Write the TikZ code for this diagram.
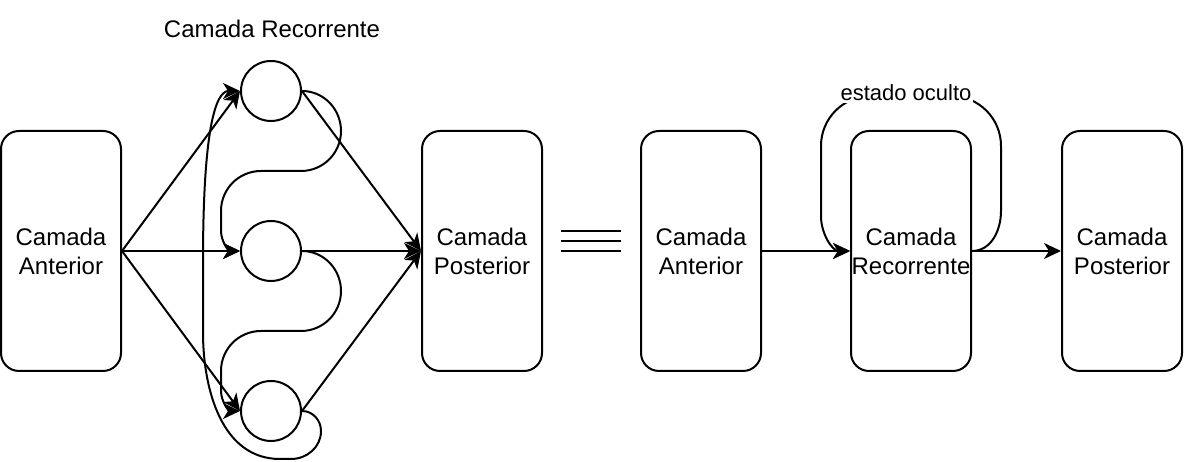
\documentclass[tikz,border=0pt]{standalone}
\usepackage{fontspec}
\setmainfont{Liberation Sans}
\usetikzlibrary{arrows.meta}
\begin{document}
\begin{tikzpicture}[x=1pt,y=1pt,
  line width=2pt,
  box/.style={draw, rounded corners=18pt, minimum width=120pt, minimum height=240pt,
    inner sep=0pt, align=center, font=\fontsize{24}{29}\selectfont},
  neuron/.style={draw, circle, minimum size=60pt, inner sep=0pt},
  arr/.style={-{Stealth[length=17pt,width=16pt,inset=5pt]}},
  lbl/.style={font=\fontsize{24}{29}\selectfont, inner sep=1pt, anchor=base},
  lblsmall/.style={font=\fontsize{22}{26}\selectfont, inner sep=1.5pt, anchor=base, fill=white}]
\useasboundingbox (0,0) rectangle (1184,462);

% left side
\node[box] (ant) at (61,211) {Camada\\Anterior};
\node[neuron] (c1) at (271,371) {};
\node[neuron] (c2) at (271,211) {};
\node[neuron] (c3) at (271,51) {};
\node[box] (post) at (482,211) {Camada\\Posterior};
\node[lbl] (title) at (272,424) {Camada Recorrente};

\draw[arr] (ant.east) -- (c1.west);
\draw[arr] (ant.east) -- (c2.west);
\draw[arr] (ant.east) -- (c3.west);
\draw[arr] (c1.east) -- (post.west);
\draw[arr] (c2.east) -- (post.west);
\draw[arr] (c3.east) -- (post.west);

% recurrent connections
\draw[arr] (c1.east) to[out=0,in=90] (341,331) to[out=-90,in=0] (301,291) -- (261,291)
  to[out=180,in=90] (221,251) -- (221,231) to[out=-90,in=180] (c2.west);
\draw[arr] (c2.east) to[out=0,in=90] (341,171) to[out=-90,in=0] (301,131) -- (261,131)
  to[out=180,in=90] (221,91) -- (221,71) to[out=-90,in=180] (c3.west);
\draw[arr] (c3.east) to[out=0,in=90] (321,31) to[out=-90,in=0] (291,3) -- (280,3)
  .. controls (222,3) and (203,72) .. (203,130) -- (203,200)
  .. controls (203,330) and (215,371) .. (c1.west);

% equivalence sign
\coordinate (eqa) at (561,231); \coordinate (eqb) at (621,231);
\draw (eqa) -- (eqb);
\draw ([yshift=-10pt]eqa) -- ([yshift=-10pt]eqb);
\draw ([yshift=-20pt]eqa) -- ([yshift=-20pt]eqb);

% right side
\node[box] (ant2) at (701,211) {Camada\\Anterior};
\node[box] (rec) at (911,211) {Camada\\Recorrente};
\node[box] (post2) at (1122,211) {Camada\\Posterior};

\draw[arr] (ant2.east) -- (rec.west);
\draw[arr] (rec.east) -- (post2.west);
\draw[arr] (rec.east) to[out=0,in=-90] (1001,251) -- (1001,316) to[out=90,in=0] (951,366)
  -- (871,366) to[out=180,in=90] (821,316) -- (821,246) to[out=-90,in=180] (rec.west);
\node[lblsmall] (hidden) at (906,361) {estado oculto};
\end{tikzpicture}
\end{document}
